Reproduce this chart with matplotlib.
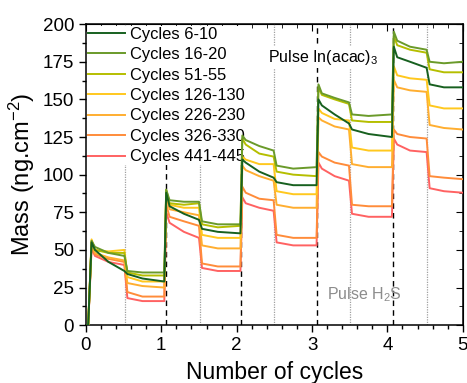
import numpy as np
import matplotlib
matplotlib.use('Agg')
import matplotlib.pyplot as plt

plt.rcParams['font.family'] = ['Liberation Sans', 'DejaVu Sans']
plt.rcParams['mathtext.fontset'] = 'custom'
plt.rcParams['mathtext.rm'] = 'Liberation Sans'
plt.rcParams['mathtext.it'] = 'Liberation Sans:italic'

# time knots (in cycles) shared by all the series
x_knots = [0.0, 0.03, 0.075, 0.12, 0.30, 0.51, 0.55, 0.75, 1.04,
           1.065, 1.11, 1.30, 1.50, 1.54, 1.75, 2.05,
           2.075, 2.12, 2.30, 2.49, 2.53, 2.75, 3.06,
           3.085, 3.13, 3.30, 3.49, 3.53, 3.75, 4.06,
           4.085, 4.13, 4.30, 4.52, 4.56, 4.75, 5.0]

# mass values (ng/cm2)
m_6_10 = [0, 0, 55, 50, 42, 36, 34, 31, 29,
          88, 79, 74, 70, 64, 62, 61,
          110, 108, 102, 98, 95, 93, 93,
          150, 146, 140, 134, 130, 127, 125,
          185, 178, 175, 171, 160, 158, 158]
m_16_20 = [0, 0, 56, 52, 48, 46, 36, 35, 35,
           90, 83, 82, 82, 69, 67, 67,
           126, 123, 119, 116, 106, 104, 105,
           160, 154, 151, 148, 140, 139, 140,
           195, 189, 185, 183, 175, 174, 175]
m_51_55 = [0, 0, 56, 50, 48, 48, 35, 33, 33,
           90, 81, 80, 81, 67, 65, 66,
           124, 120, 114, 112, 102, 100, 99,
           158, 153, 150, 147, 136, 135, 135,
           192, 186, 183, 181, 170, 168, 168]
m_126_130 = [0, 0, 57, 50, 49, 50, 32, 29, 29,
             88, 80, 78, 78, 60, 58, 58,
             112, 110, 107, 107, 89, 87, 87,
             144, 141, 137, 136, 118, 116, 116,
             172, 166, 164, 163, 146, 144, 144]
m_226_230 = [0, 0, 55, 48, 45, 43, 28, 26, 25,
             85, 77, 75, 73, 53, 51, 51,
             106, 103, 99, 96, 80, 78, 78,
             138, 136, 132, 130, 107, 105, 105,
             163, 158, 156, 155, 133, 131, 130]
m_326_330 = [0, 0, 53, 47, 44, 42, 22, 19, 19,
             80, 72, 69, 66, 41, 39, 39,
             92, 88, 84, 83, 60, 58, 58,
             115, 112, 108, 106, 80, 79, 79,
             130, 127, 125, 124, 99, 98, 97]
m_441_445 = [0, 0, 51, 46, 42, 40, 18, 16, 16,
             75, 68, 62, 58, 38, 36, 36,
             85, 81, 78, 76, 55, 53, 53,
             108, 104, 99, 96, 74, 72, 72,
             124, 120, 116, 115, 91, 89, 88]

labels = ['Cycles 6-10', 'Cycles 16-20', 'Cycles 51-55', 'Cycles 126-130',
          'Cycles 226-230', 'Cycles 326-330', 'Cycles 441-445']
colors = ['#17601f', '#6a9a2a', '#b5be00', '#ffc81e', '#ffae30', '#ff8c3a', '#ff6262']
series = [m_6_10, m_16_20, m_51_55, m_126_130, m_226_230, m_326_330, m_441_445]

# pulse positions
pulse_in = [1.06, 2.06, 3.07, 4.07]
pulse_h2s = [0.52, 1.51, 2.50, 3.50, 4.53]

fig = plt.figure(figsize=(4.67, 3.83), dpi=100)
ax = fig.add_axes([0.184, 0.151, 0.807, 0.786])

for xv in pulse_h2s:
    ax.axvline(xv, color='#a0a0a0', lw=0.9, ls=(0, (1, 1)), zorder=1)
for xv in pulse_in:
    ax.axvline(xv, color='black', lw=1.0, ls=(0, (4, 3)), zorder=1)

# plot from the last series to the first so that greens sit on top
for ys, c, lab in reversed(list(zip(series, colors, labels))):
    ax.plot(x_knots, ys, color=c, lw=1.4, label=lab, zorder=3)

ax.set_xlim(0, 5)
ax.set_ylim(0, 200)
ax.set_xticks(np.arange(0, 6, 1))
ax.set_xticks(np.arange(0, 5.01, 0.2), minor=True)
ax.set_yticks(np.arange(0, 201, 25))
ax.set_yticks(np.arange(0, 201, 12.5), minor=True)
ax.tick_params(which='both', direction='out', labelsize=13.5, width=1,
               top=False, right=False)
ax.tick_params(which='major', length=5)
ax.tick_params(which='minor', length=3)
for sp in ax.spines.values():
    sp.set_linewidth(1.1)

# opposite axes with inward ticks
sx = ax.secondary_xaxis('top')
sx.set_xticks(np.arange(0, 6, 1))
sx.set_xticks(np.arange(0, 5.01, 0.2), minor=True)
sx.tick_params(which='both', direction='in', labeltop=False)
sx.tick_params(which='major', length=5)
sx.tick_params(which='minor', length=3)
sy = ax.secondary_yaxis('right')
sy.set_yticks(np.arange(0, 201, 25))
sy.set_yticks(np.arange(0, 201, 12.5), minor=True)
sy.tick_params(which='both', direction='in', labelright=False)
sy.tick_params(which='major', length=5)
sy.tick_params(which='minor', length=3)

ax.set_xlabel('Number of cycles', fontsize=16.5, labelpad=5)
ax.set_ylabel('Mass (ng.cm$^{-2}$)', fontsize=17, labelpad=4)

ax.text(2.41, 178, 'Pulse In(acac)$_3$', fontsize=11.5, va='center', zorder=2,
        bbox=dict(facecolor='white', edgecolor='none', pad=1))
ax.text(3.2, 20, 'Pulse H$_2$S', fontsize=11.5, va='center', color='#8c8c8c', zorder=2)

handles, labs = ax.get_legend_handles_labels()
leg = ax.legend(handles[::-1], labs[::-1], loc='upper left', fontsize=11.9,
                frameon=True, fancybox=False, edgecolor='none', facecolor='white',
                framealpha=1, handlelength=2.2, handletextpad=0.3,
                labelspacing=0.33, borderaxespad=0.1, borderpad=0.05)
# legend hides the pulse markers but not the data
leg.set_zorder(2)

plt.savefig('out.png', dpi=100)
